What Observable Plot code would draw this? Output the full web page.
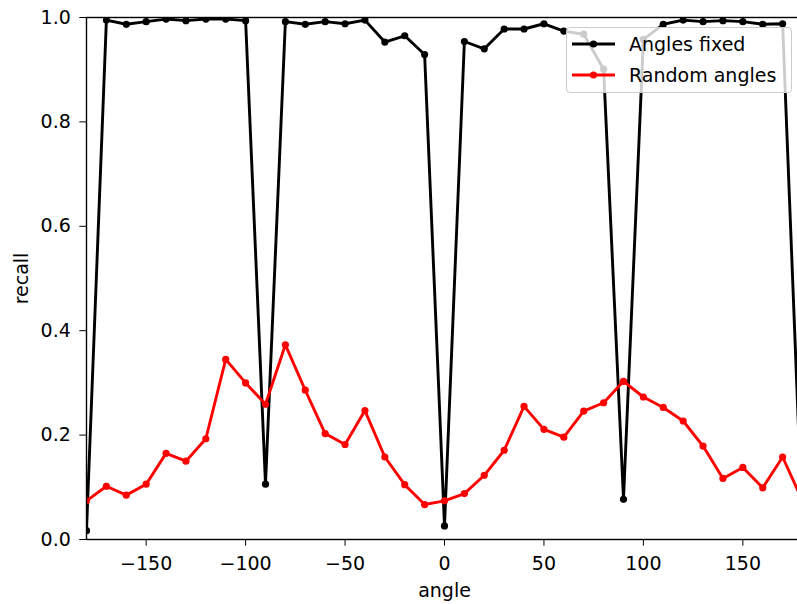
<!DOCTYPE html>
<html>
<head>
<meta charset="utf-8">
<script src="https://cdn.jsdelivr.net/npm/d3@7"></script>
<script src="https://cdn.jsdelivr.net/npm/@observablehq/plot@0.6"></script>
<style>
  html, body { margin: 0; padding: 0; background: #fff; overflow: hidden; }
  #wrap { position: relative; width: 797px; height: 604px; overflow: hidden; }
  #wrap > svg { max-width: none !important; }
  #legend {
    position: absolute; left: 566px; top: 27px; width: 224px; height: 64px;
    background: rgba(255,255,255,0.8); border: 1px solid #cccccc; border-radius: 4px;
    font-family: "DejaVu Sans", sans-serif; font-size: 19px; color: #000;
  }
  .row { position: absolute; left: 0; height: 24px; display: flex; align-items: center; }
  .row svg { margin-left: 5px; margin-right: 14px; }
</style>
</head>
<body>
<div id="wrap"><div id="legend"></div></div>
<script>
// ---- data ----
const angles = [-180, -170, -160, -150, -140, -130, -120, -110, -100, -90,
  -80, -70, -60, -50, -40, -30, -20, -10, 0, 10, 20, 30, 40, 50, 60, 70, 80,
  90, 100, 110, 120, 130, 140, 150, 160, 170, 180];
const fixedRecall = [0.017, 0.995, 0.987, 0.992, 0.997, 0.994, 0.997, 0.997, 0.994, 0.106,
  0.992, 0.987, 0.992, 0.988, 0.995, 0.953, 0.965, 0.929, 0.026, 0.954, 0.940, 0.978, 0.978,
  0.988, 0.974, 0.968, 0.901, 0.077, 0.958, 0.987, 0.995, 0.992, 0.994, 0.992, 0.987, 0.988, 0.017];
const randomRecall = [0.074, 0.102, 0.085, 0.106, 0.165, 0.150, 0.193, 0.345, 0.300, 0.259,
  0.373, 0.286, 0.203, 0.182, 0.247, 0.158, 0.105, 0.067, 0.074, 0.088, 0.123, 0.171, 0.255,
  0.211, 0.196, 0.246, 0.262, 0.303, 0.273, 0.253, 0.227, 0.179, 0.117, 0.138, 0.099, 0.158, 0.074];
const seriesNames = ["Angles fixed", "Random angles"];
const seriesColors = ["#000000", "#ff0000"];
const xTicks = [-150, -100, -50, 0, 50, 100, 150];
const yTicks = [0, 0.2, 0.4, 0.6, 0.8, 1.0];
const xLabel = "angle";
const yLabel = "recall";

const seriesValues = [fixedRecall, randomRecall];
const tables = seriesValues.map((vals, s) =>
  angles.map((a, i) => ({angle: a, recall: vals[i], series: seriesNames[s]})));

const marks = [];
tables.forEach((t, s) => {
  marks.push(Plot.line(t, {x: "angle", y: "recall", stroke: seriesColors[s], strokeWidth: 2.9, clip: true}));
  marks.push(Plot.dot(t, {x: "angle", y: "recall", fill: seriesColors[s], r: 3.6, clip: true}));
});
marks.push(Plot.frame({stroke: "#000", strokeWidth: 1.4}));
marks.push(Plot.axisX({ticks: xTicks, tickSize: 6.7, tickPadding: 10, tickFormat: d3.format("d"),
  label: xLabel, labelAnchor: "center", labelArrow: "none", labelOffset: 57}));
marks.push(Plot.axisY({ticks: yTicks, tickSize: 6.7, tickPadding: 9, tickFormat: d3.format(".1f"),
  label: yLabel, labelAnchor: "center", labelArrow: "none", labelOffset: 72}));

const chart = Plot.plot({
  width: 803, height: 604,
  marginLeft: 86, marginRight: 1, marginTop: 17, marginBottom: 65,
  style: {fontFamily: "'DejaVu Sans', sans-serif", fontSize: "19px", color: "#000", background: "transparent", overflow: "visible"},
  x: {domain: [-180, 180]},
  y: {domain: [0, 1]},
  marks
});
const wrap = document.getElementById("wrap");
wrap.insertBefore(chart, wrap.firstChild);
chart.style.position = "absolute";
chart.style.left = "0px";
chart.style.top = "0px";
chart.style.maxWidth = "none";

// legend (matplotlib style)
const legend = document.getElementById("legend");
seriesNames.forEach((name, s) => {
  const row = document.createElement("div");
  row.className = "row";
  row.style.top = (4 + s * 31) + "px";
  row.innerHTML = `<svg width="43" height="24"><line x1="0" x2="43" y1="12" y2="12" stroke="${seriesColors[s]}" stroke-width="2.9"/><circle cx="21.5" cy="12" r="3.6" fill="${seriesColors[s]}"/></svg><span>${name}</span>`;
  legend.appendChild(row);
});
</script>
</body>
</html>
